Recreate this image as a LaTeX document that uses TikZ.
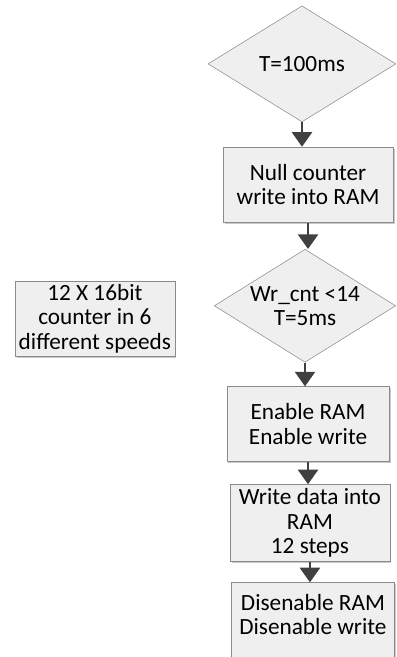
\documentclass[tikz,border=0pt]{standalone}
\usepackage{fontspec}
\setmainfont{Carlito}
\usepackage{xcolor}
\usepackage{tikz}
\usetikzlibrary{shapes.geometric, arrows.meta, positioning, shadows}
\definecolor{boxfill}{HTML}{EFEFEF}
\definecolor{boxline}{HTML}{8A8A8A}
\definecolor{arrowcol}{HTML}{404040}
\tikzstyle{cond} = [diamond, minimum width=4.97cm, minimum height=3.07cm, inner sep=0pt, aspect=1.6, align=center, draw=boxline, fill=boxfill]
\tikzstyle{process} = [rectangle, minimum width=4.3cm, minimum height=2cm, inner sep=1pt, align=center, draw=boxline, fill=boxfill, drop shadow={shadow xshift=1.2pt, shadow yshift=-1.2pt, fill=black!35, opacity=0.6}]
\tikzstyle{arrow} = [line width=2pt, draw=arrowcol, -{Triangle[width=15pt, length=11pt]}]

\begin{document}
\begin{tikzpicture}[node distance=3.2cm, font=\fontsize{17.5}{18.3}\selectfont]
\useasboundingbox (0,0) rectangle (10.478,-17.383);
\begin{scope}
\clip (0,0) rectangle (10.478,-17.383);

\node (wait) [cond] at (7.99,-1.69) {T=100ms};
\node (null) [process, below of=wait, xshift=0.16cm, minimum width=4.5cm] {Null counter\\write into RAM};
\node (loop) [cond, below of=null, xshift=-0.08cm, minimum width=4.8cm, minimum height=2.99cm] {Wr\_cnt <14\\T=5ms};
\node (enable) [process, below of=loop, xshift=0.08cm, yshift=0.07cm, minimum width=4.3cm, minimum height=1.98cm] {Enable RAM\\Enable write};
\node (write) [process, below of=enable, xshift=0.05cm, yshift=0.58cm, minimum width=4.23cm, minimum height=2.04cm] {Write data into\\RAM\\12 steps};
\node (disable) [process, below of=write, xshift=0.08cm, yshift=0.46cm, minimum width=4.3cm, minimum height=2.33cm] {Disenable RAM\\Disenable write\\~};
\node (counter) [process, left of=loop, xshift=-2.36cm, yshift=-0.34cm, minimum width=4.23cm] {12 X 16bit\\counter in 6\\different speeds};

\draw [arrow] (wait) -- (wait.south |- null.north);
\draw [arrow] (null) -- (null.south |- loop.north);
\draw [arrow] (loop) -- (loop.south |- enable.north);
\draw [arrow] (enable) -- (enable.south |- write.north);
\draw [arrow] (write) -- (write.south |- disable.north);

\end{scope}
\end{tikzpicture}
\end{document}
